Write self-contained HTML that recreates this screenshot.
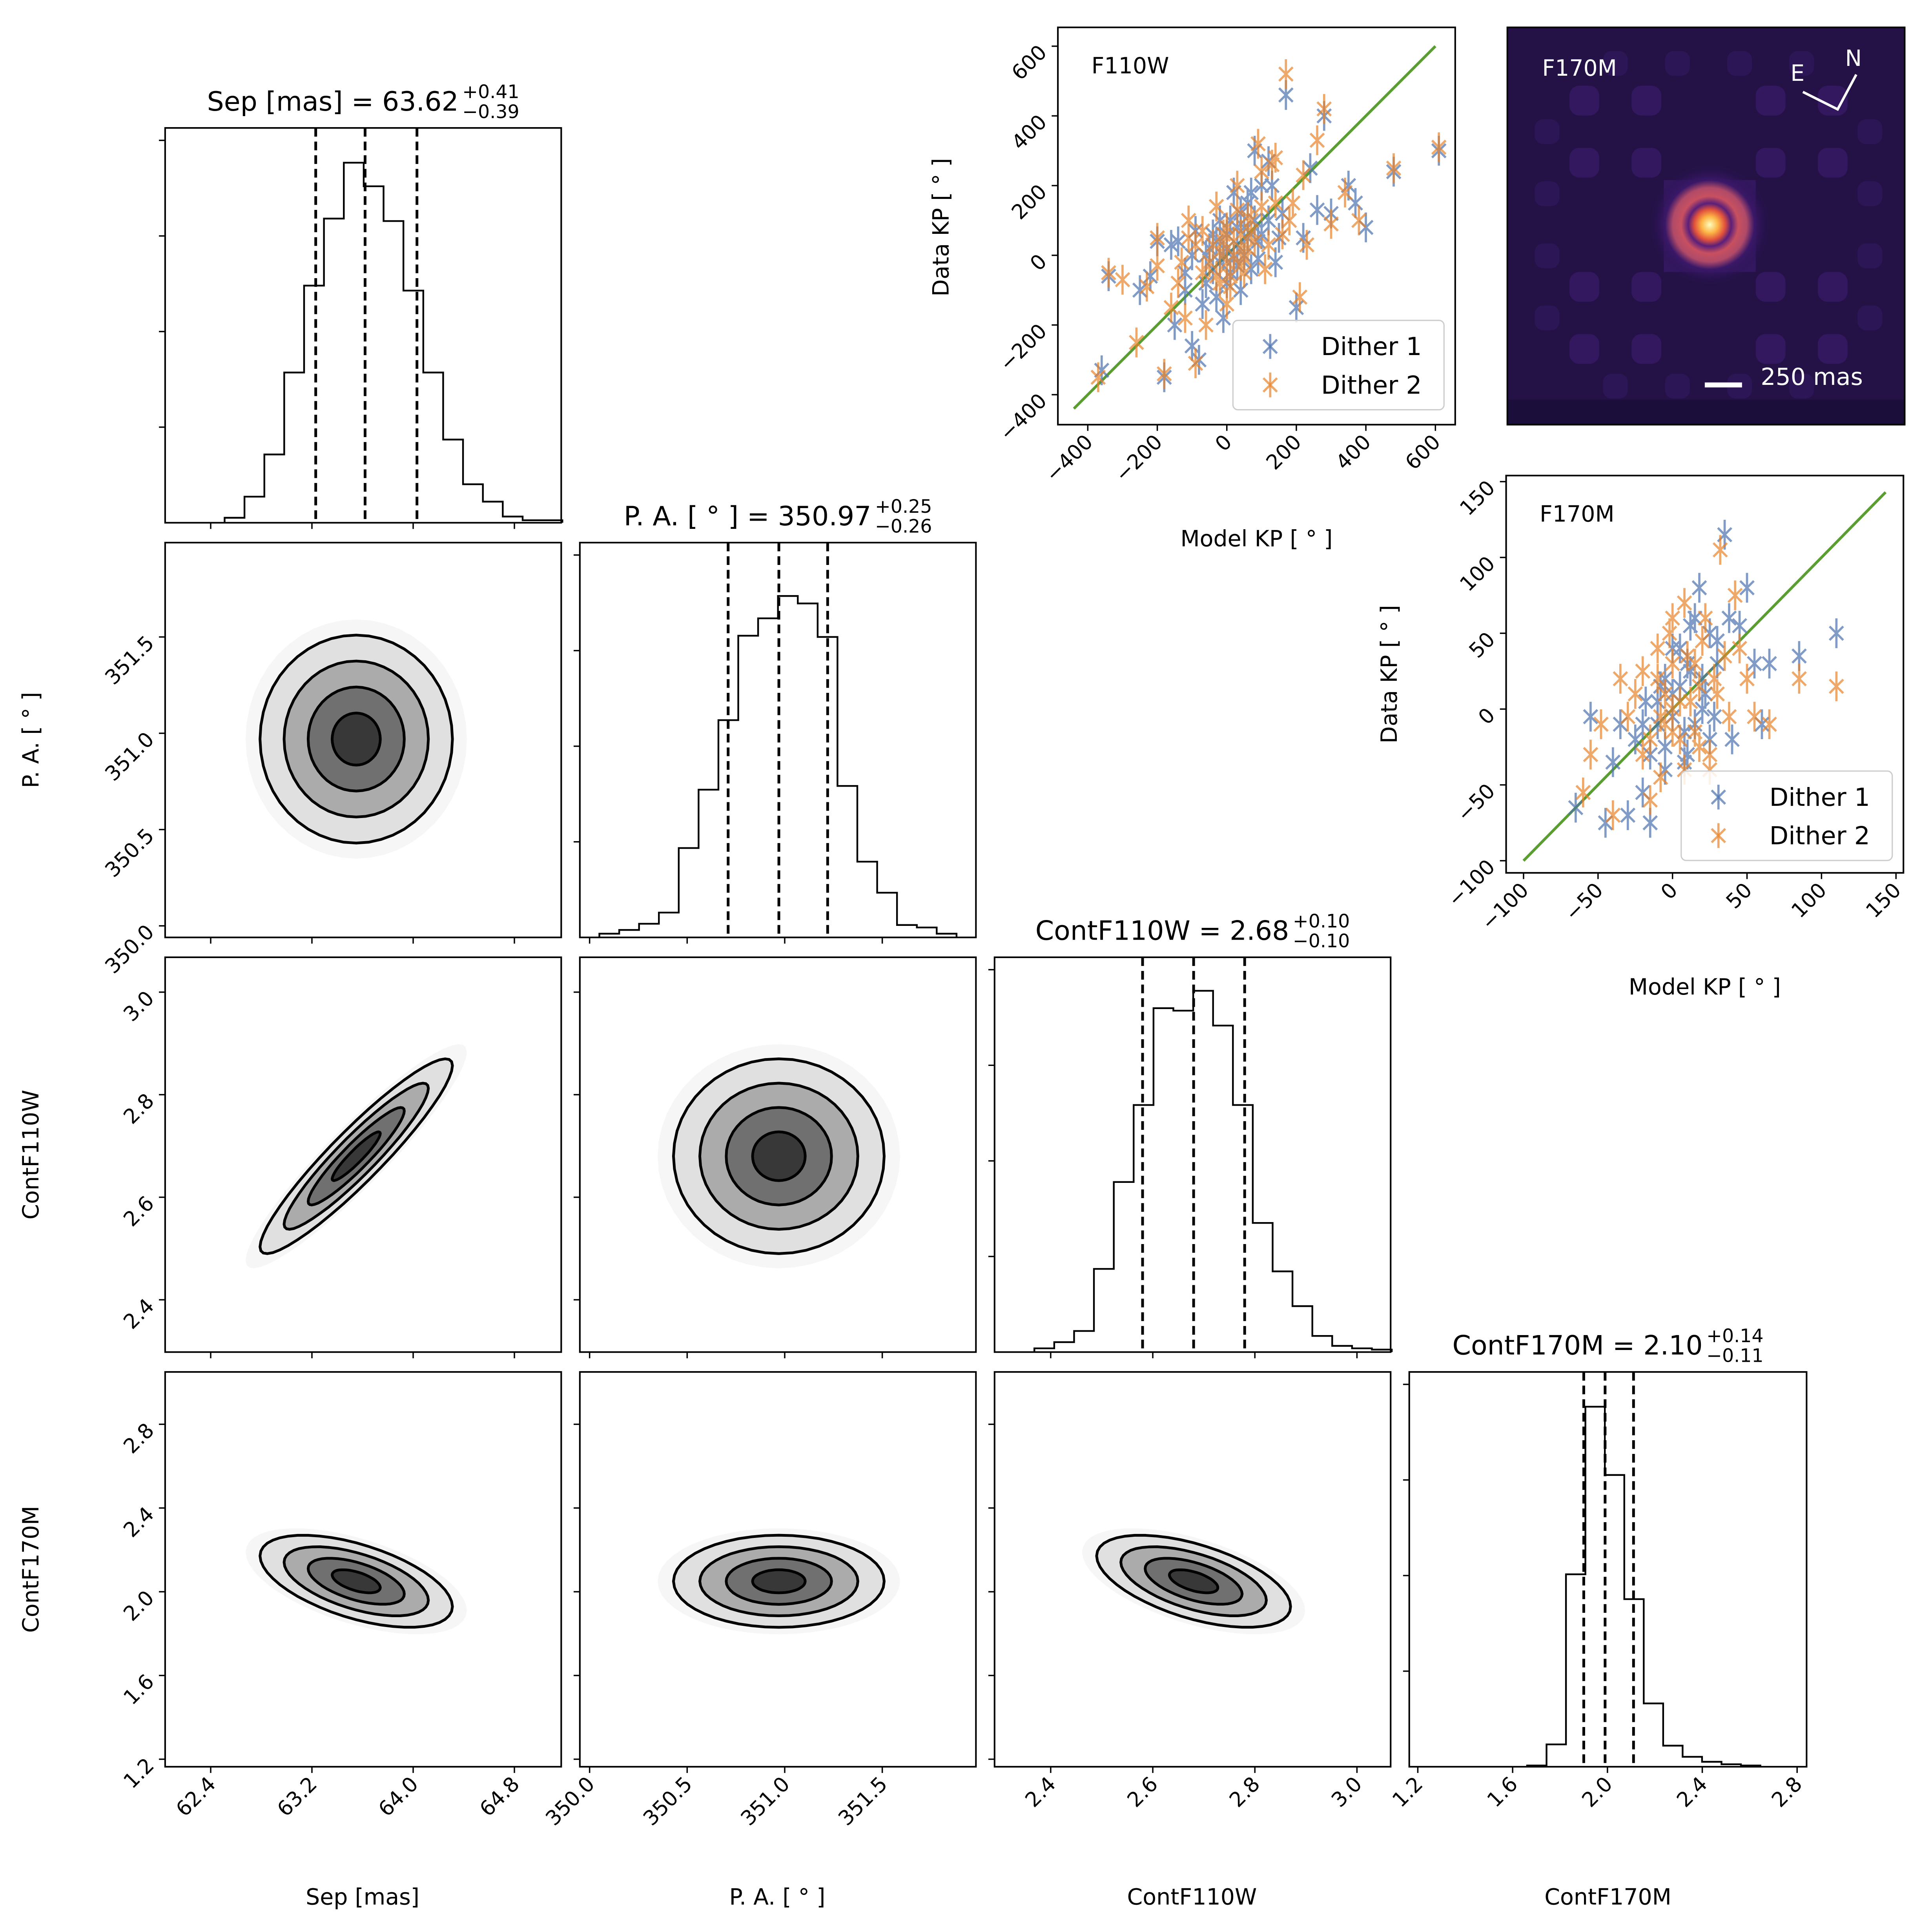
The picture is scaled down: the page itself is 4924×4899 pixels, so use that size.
<!DOCTYPE html>
<html><head><meta charset="utf-8">
<style>html,body{margin:0;padding:0;background:#fff}svg{display:block}text{font-family:"DejaVu Sans","Liberation Sans",sans-serif}</style>
</head><body>
<svg id="fig" xmlns="http://www.w3.org/2000/svg" width="4924" height="4899" viewBox="0 0 1556 1548">
<rect x="0" y="0" width="1556" height="1548" fill="#fff"/>
<defs>
<radialGradient id="psf" cx="0.5" cy="0.5" r="0.5">
<stop offset="0" stop-color="#fcfdbf"/><stop offset="0.14" stop-color="#fcb445"/><stop offset="0.26" stop-color="#e0503c"/><stop offset="0.36" stop-color="#5a1f7a"/><stop offset="0.48" stop-color="#c85060"/><stop offset="0.62" stop-color="#b04a68"/><stop offset="0.75" stop-color="#3a1868"/><stop offset="1" stop-color="#2a1152" stop-opacity="0"/>
</radialGradient>
</defs>
</svg>
<script>
// ---------- DATA ----------
const labels=["Sep [mas]","P. A. [ ° ]","ContF110W","ContF170M"];
const sepRange=[62.04,65.17], paRange=[349.95,351.98], c110Range=[2.29,3.066], c170Range=[1.164,2.84];
const sepTicks=[62.4,63.2,64.0,64.8], paTicks=[350.0,350.5,351.0,351.5], c110Ticks=[2.4,2.6,2.8,3.0], c170Ticks=[1.2,1.6,2.0,2.4,2.8];
const paYRange=[349.94,351.99], c110YRange=[2.298,3.068], c170YRange=[1.164,3.05];
const sepHistCounts=[4,21,55,121,191,245,290,271,243,187,121,67,31,17,5,2,2];
const paHistCounts=[3,6,11,20,72,119,175,243,257,275,269,242,122,61,36,10,8,3];
const c110HistCounts=[3,8,17,67,137,199,277,275,291,263,199,104,65,37,13,5,3,2];
const c170HistCounts=[1,18,155,290,235,135,51,17,8,4,2,1];
const histStarts=[62.51,350.05,2.368,1.661];
const histWidths=[0.157,0.1017,0.0389,0.082];
const quantSep=[63.23,63.62,64.03], quantPa=[350.71,350.97,351.22], quantC110=[2.58,2.68,2.78], quantC170=[1.90,1.99,2.11];
const means=[63.55,350.97,2.68,2.05];
const sigmas=[0.38,0.27,0.095,0.11];
const corr={ "1-0":0.0, "2-0":0.93, "2-1":0.0, "3-0":-0.55, "3-1":0.0, "3-2":-0.55 };
const levels=[0.5,1.0,1.5,2.0];
const f110Model1=[-360,-340,-250,-200,-180,-150,-120,-100,-80,-60,-40,-20,0,10,20,30,40,50,60,80,100,120,140,160,170,200,220,260,280,300,350,370,400,480,610,-220,-160,-90,-30,70,130,240,-10,-70,90,-50,-30,-20,0,10,20,30,40,-60,-10,60,80,100,-100,-140,-120,0,50,120,30,70,-40,150,90];
const f110Data1=[-330,-60,-100,40,-350,-200,-50,-260,-300,0,60,100,20,-50,180,80,-100,0,150,300,60,270,-20,120,460,-150,50,130,400,120,200,150,80,240,300,-60,30,70,-120,-40,200,250,-180,-140,40,20,40,-20,60,100,-10,30,120,-80,0,50,100,200,0,40,-100,-80,80,100,-30,180,-40,50,-10];
const f110Model2=[-370,-340,-260,-230,-200,-180,-140,-120,-90,-70,-50,-30,-10,10,30,40,50,70,90,110,130,160,170,190,210,230,260,280,300,340,380,480,610,-300,-200,-110,-20,60,140,220,-60,100,20,0,-40,-20,0,20,40,60,-70,-10,10,80,100,-90,-130,-160,30,50,120,-30,70,140,-110,0,180,40];
const f110Data2=[-350,-50,-250,-90,-30,-340,-80,-180,-310,70,-20,140,40,-60,200,60,-10,100,320,-40,260,60,520,150,-120,30,330,420,90,180,100,250,310,-70,50,100,-80,20,150,230,-200,140,0,-20,30,10,80,40,-30,110,-50,60,-90,40,240,30,-20,-150,130,-50,30,-60,70,280,50,-140,100,20];
const f170Model1=[-65,-55,-45,-40,-30,-25,-20,-15,-10,-5,0,5,10,15,20,25,30,35,40,45,50,55,60,65,85,110,-35,-5,12,28,8,-18,38,18,-10,0,5,10,-5,15,20,25,-15,-20,30,0,8,-8,22,12];
const f170Data1=[-65,-5,-75,-35,-70,-20,-55,-75,-10,20,10,40,-30,60,0,50,30,115,-20,55,80,30,-10,30,35,50,-10,-40,25,-5,-15,5,60,80,5,-5,15,30,-25,-10,20,-20,-30,-10,45,40,-35,15,10,55];
const f170Model2=[-60,-55,-48,-40,-35,-30,-20,-15,-10,-5,0,5,8,12,18,22,28,32,38,45,50,55,65,85,110,-25,0,15,-8,25,42,-2,-10,0,5,10,-5,15,20,25,-15,-20,30,0,8,-8,18,35];
const f170Data2=[-55,-30,-10,-70,20,-5,-30,-60,40,-10,30,-20,70,5,-25,60,20,105,-5,40,20,-5,-10,20,15,10,0,30,-45,-40,75,50,20,-15,5,35,10,-15,45,-30,-20,25,10,60,-40,-5,15,35];
const f110Ticks=[-400,-200,0,200,400,600];
const f170Ticks=[-100,-50,0,50,100,150];

// ---------- HELPERS ----------
const svg=document.getElementById('fig');
const NS='http://www.w3.org/2000/svg';
function mk(tag,attrs,parent){const e=document.createElementNS(NS,tag);for(const k in attrs)e.setAttribute(k,attrs[k]);(parent||svg).appendChild(e);return e;}
function lin(d0,d1,p0,p1){return v=>p0+(v-d0)/(d1-d0)*(p1-p0);}
const colX=[[133,452],[467,786],[801,1120],[1135,1455]];
const rowY=[[103,421],[437,755],[771,1089],[1105,1423]];
const xRanges=[sepRange,paRange,c110Range,c170Range];
const yRanges=[null,paYRange,c110YRange,c170YRange];
const xTicks=[sepTicks,paTicks,c110Ticks,c170Ticks];
const fmt=v=>v.toFixed(1);
const hists=[sepHistCounts,paHistCounts,c110HistCounts,c170HistCounts];
const quants=[quantSep,quantPa,quantC110,quantC170];
const titles=[["Sep [mas] = 63.62","+0.41","−0.39"],["P. A. [ ° ] = 350.97","+0.25","−0.26"],["ContF110W = 2.68","+0.10","−0.10"],["ContF170M = 2.10","+0.14","−0.11"]];
const TF=16.5;

function frame(x0,y0,x1,y1,name){const r=mk('rect',{x:x0,y:y0,width:x1-x0,height:y1-y0,fill:'none',stroke:'#000','stroke-width':1.3});

}

function xTickMarks(c,r,withLabels){
  const sx=lin(xRanges[c][0],xRanges[c][1],colX[c][0],colX[c][1]);const yb=rowY[r][1];
  xTicks[c].forEach(t=>{const px=sx(t);mk('line',{x1:px,x2:px,y1:yb,y2:yb+5,stroke:'#000','stroke-width':1.1});
    if(withLabels){const tx=mk('text',{x:px+5,y:yb+15,'font-size':TF,'text-anchor':'end',transform:`rotate(-45 ${px+5} ${yb+15})`});tx.textContent=fmt(t);
      
      }});
}
function yTickMarks(r,c,withLabels){
  const sy=lin(yRanges[r][0],yRanges[r][1],rowY[r][1],rowY[r][0]);const xl=colX[c][0];
  xTicks[r].forEach(t=>{const py=sy(t);if(py<rowY[r][0]-1||py>rowY[r][1]+1)return;mk('line',{x1:xl-5,x2:xl,y1:py,y2:py,stroke:'#000','stroke-width':1.1});
    if(withLabels){const tx=mk('text',{x:xl-8,y:py+6,'font-size':TF,'text-anchor':'end',transform:`rotate(-45 ${xl-8} ${py+6})`});tx.textContent=fmt(t);
      
      }});
}

// ---------- HISTOGRAMS ----------
for(let i=0;i<4;i++){
  const [x0,x1]=colX[i],[y0,y1]=rowY[i];
  const sx=lin(xRanges[i][0],xRanges[i][1],x0,x1);const sy=lin(0,318,y1,y0);
  const counts=hists[i];let d=`M${sx(histStarts[i])},${y1}`;
  counts.forEach((cnt,k)=>{const a=sx(histStarts[i]+k*histWidths[i]),b=sx(histStarts[i]+(k+1)*histWidths[i]);d+=`L${a},${sy(cnt)}L${b},${sy(cnt)}`;});
  d+=`L${sx(histStarts[i]+counts.length*histWidths[i])},${y1}`;
  const p=mk('path',{d:d,fill:'none',stroke:'#000','stroke-width':1.4});
  
  
  quants[i].forEach(q=>{const l=mk('line',{x1:sx(q),x2:sx(q),y1:y0,y2:y1,stroke:'#000','stroke-width':2.2,'stroke-dasharray':'7,4'});
    
    });
  frame(x0,y0,x1,y1,'hist-panel-'+i);
  [77,154,231,308].forEach(v=>{const py=sy(v);mk('line',{x1:x0-5,x2:x0,y1:py,y2:py,stroke:'#000','stroke-width':1.1});});
  xTickMarks(i,i,i===3);
  const t=titles[i];const cx=(x0+x1)/2;
  const tg=mk('g',{});
  
  
  const tt=mk('text',{x:0,y:y0-14,'font-size':21.5},tg);tt.textContent=t[0];
  const w=tt.getComputedTextLength();
  const s1=mk('text',{x:w+3,y:y0-24,'font-size':15},tg);s1.textContent=t[1];
  const s2=mk('text',{x:w+3,y:y0-8,'font-size':15},tg);s2.textContent=t[2];
  const tot=w+3+Math.max(s1.getComputedTextLength(),s2.getComputedTextLength());
  tg.setAttribute('transform',`translate(${cx-tot/2},0)`);
}

// ---------- 2D PANELS ----------
const fills=['#f6f6f6','#e0e0e0','#ababab','#707070','#383838'];
const fillR=[2.3,2.0,1.5,1.0,0.5];
function ellipsePts(mx,my,sx,sy,rho,r,fx,fy){let pts=[];const s=Math.sqrt(1-rho*rho);
  for(let k=0;k<48;k++){const t=k/48*2*Math.PI;const x=mx+sx*r*Math.cos(t);const y=my+sy*r*(rho*Math.cos(t)+s*Math.sin(t));pts.push(fx(x).toFixed(1)+','+fy(y).toFixed(1));}return pts.join(' ');}
for(let r=1;r<4;r++)for(let c=0;c<r;c++){
  const [x0,x1]=colX[c],[y0,y1]=rowY[r];
  const fx=lin(xRanges[c][0],xRanges[c][1],x0,x1),fy=lin(yRanges[r][0],yRanges[r][1],y1,y0);
  const rho=corr[r+'-'+c];
  const g=mk('g',{});
  
  
  fillR.forEach((rr,k)=>{const pg=mk('polygon',{points:ellipsePts(means[c],means[r],sigmas[c],sigmas[r],rho,rr,fx,fy),fill:fills[k]},g);
    
    });
  levels.forEach(lv=>{const pg=mk('polygon',{points:ellipsePts(means[c],means[r],sigmas[c],sigmas[r],rho,lv,fx,fy),fill:'none',stroke:'#000','stroke-width':2.2},g);
    
    });
  frame(x0,y0,x1,y1,`panel-${r}-${c}`);
  xTickMarks(c,r,r===3);
  yTickMarks(r,c,c===0);
}
const xl=[[292,1534],[626,1534],[960,1534],[1295,1534]];
labels.forEach((l,i)=>{const t=mk('text',{x:xl[i][0],y:xl[i][1],'font-size':18,'text-anchor':'middle'});t.textContent=l;
  
  });
[[596,1],[930,2],[1264,3]].forEach(([y,i])=>{const t=mk('text',{x:31,y:y,'font-size':18,'text-anchor':'middle',transform:`rotate(-90 31 ${y})`});t.textContent=labels[i];
  
  });

// ---------- KP SCATTER PANELS ----------
function kpPanel(o){
  const {x0,x1,y0,y1,xr,yr,ticks,m1,d1,m2,d2,err,name,line}=o;
  const fx=lin(xr[0],xr[1],x0,x1),fy=lin(yr[0],yr[1],y1,y0);
  const g=mk('g',{});
  
  
  const ln=mk('line',{x1:fx(line[0]),y1:fy(line[0]),x2:fx(line[1]),y2:fy(line[1]),stroke:'#5a9e32','stroke-width':2.2},g);
  
  
  function series(ms,ds,col,nm){const sg=mk('g',{opacity:0.7},g);
    
    
    ms.forEach((m,k)=>{const px=fx(m),py=fy(ds[k]);
      mk('line',{x1:px,x2:px,y1:py-err,y2:py+err,stroke:col,'stroke-width':1.8},sg);
      mk('path',{d:`M${px-5.5},${py-5.5}L${px+5.5},${py+5.5}M${px-5.5},${py+5.5}L${px+5.5},${py-5.5}`,stroke:col,'stroke-width':1.8},sg);});}
  series(m1,d1,'#4c72b0','dither-1-series');
  series(m2,d2,'#e8842a','dither-2-series');
  frame(x0,y0,x1,y1,name+'-frame');
  ticks.forEach(t=>{const px=fx(t);mk('line',{x1:px,x2:px,y1:y1,y2:y1+5,stroke:'#000','stroke-width':1.1});
    const a=mk('text',{x:px+5,y:y1+15,'font-size':TF,'text-anchor':'end',transform:`rotate(-45 ${px+5} ${y1+15})`});a.textContent=String(t).replace('-','−');
    
    
    const py=fy(t);mk('line',{x1:x0-5,x2:x0,y1:py,y2:py,stroke:'#000','stroke-width':1.1});
    const b=mk('text',{x:x0-8,y:py+6,'font-size':TF,'text-anchor':'end',transform:`rotate(-45 ${x0-8} ${py+6})`});b.textContent=String(t).replace('-','−');
    
    });
  const lab=mk('text',{x:x0+27,y:y0+37,'font-size':18});lab.textContent=o.filter;
  
  
  const lx=o.legend[0],ly=o.legend[1];
  const lg=mk('g',{},g);
  
  
  mk('rect',{x:lx,y:ly,width:170,height:72,rx:4,fill:'#fff','fill-opacity':0.85,stroke:'#ccc'},lg);
  [['Dither 1','#4c72b0'],['Dither 2','#e8842a']].forEach(([t,col],k)=>{const cy=ly+21+k*31,cx=lx+30;
    mk('line',{x1:cx,x2:cx,y1:cy-10,y2:cy+10,stroke:col,'stroke-width':1.8,opacity:0.7},lg);
    mk('path',{d:`M${cx-5.5},${cy-5.5}L${cx+5.5},${cy+5.5}M${cx-5.5},${cy+5.5}L${cx+5.5},${cy-5.5}`,stroke:col,'stroke-width':1.8,opacity:0.7},lg);
    const tx=mk('text',{x:lx+71,y:cy+7,'font-size':20},lg);tx.textContent=t;
    
    });
  const xt=mk('text',{x:o.xlab[0],y:o.xlab[1],'font-size':18,'text-anchor':'middle'});xt.textContent='Model KP [ ° ]';
  
  
  const yt=mk('text',{x:o.ylab[0],y:o.ylab[1],'font-size':18,'text-anchor':'middle',transform:`rotate(-90 ${o.ylab[0]} ${o.ylab[1]})`});yt.textContent='Data KP [ ° ]';
  
  
}
kpPanel({x0:852,x1:1172,y0:22,y1:342,xr:[-486,657],yr:[-486,654],ticks:f110Ticks,m1:f110Model1,d1:f110Data1,m2:f110Model2,d2:f110Data2,err:12,name:'f110w-kp',line:[-440,600],filter:'F110W',legend:[993,258],xlab:[1012,440],ylab:[764,183]});
kpPanel({x0:1213,x1:1533,y0:383,y1:703,xr:[-111.7,155],yr:[-108,154],ticks:f170Ticks,m1:f170Model1,d1:f170Data1,m2:f170Model2,d2:f170Data2,err:12,name:'f170m-kp',line:[-100,143],filter:'F170M',legend:[1354,621],xlab:[1373,801],ylab:[1125,543]});

// ---------- PSF IMAGE ----------
const ig=mk('g',{});


mk('rect',{x:1214,y:22,width:320,height:320,fill:'#241247'},ig);
const spots=[-100,-50,50,100];
spots.forEach(a=>spots.forEach(b=>{mk('rect',{x:1376+a-12,y:181+b-12,width:24,height:24,rx:8,fill:'#3e1c70',opacity:0.6},ig);}));
[-130,130].forEach(a=>[-75,-25,25,75].forEach(b=>{mk('rect',{x:1376+a-10,y:181+b-10,width:20,height:20,rx:7,fill:'#361a66',opacity:0.5},ig);mk('rect',{x:1376+b-10,y:181+a-10,width:20,height:20,rx:7,fill:'#361a66',opacity:0.5},ig);}));
mk('rect',{x:1340,y:145,width:74,height:74,fill:'#33185f'},ig);
mk('circle',{cx:1377,cy:181,r:48,fill:'url(#psf)'},ig);
mk('rect',{x:1214,y:322,width:320,height:20,fill:'#1c0e3a'},ig);
frame(1214,22,1534,342,'psf-image-frame');
const il=mk('text',{x:1242,y:61,'font-size':18,fill:'#fff'});il.textContent='F170M';


mk('path',{d:'M1495,60L1480,88L1452,74',stroke:'#fff','stroke-width':2,fill:'none'});
const tn=mk('text',{x:1486,y:53,'font-size':18,fill:'#fff'});tn.textContent='N';


const te=mk('text',{x:1442,y:65,'font-size':18,fill:'#fff'});te.textContent='E';


mk('rect',{x:1373,y:308,width:30,height:4,fill:'#fff'});
const ts=mk('text',{x:1418,y:310,'font-size':19,fill:'#fff'});ts.textContent='250 mas';


</script>
</body></html>
